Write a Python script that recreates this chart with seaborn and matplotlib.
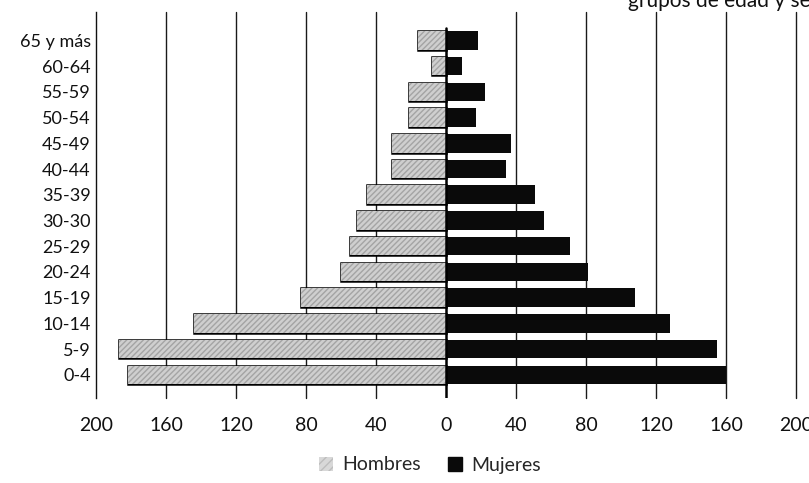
import matplotlib
matplotlib.use("Agg")
import matplotlib.pyplot as plt
import matplotlib.patheffects as pe
from matplotlib.patches import Patch
from matplotlib.ticker import FuncFormatter
import pandas as pd
import seaborn as sns

# Grupos de edad (de mayor a menor) y población por sexo
edades = ["65 y más", "60-64", "55-59", "50-54", "45-49", "40-44", "35-39",
          "30-30", "25-29", "20-24", "15-19", "10-14", "5-9", "0-4"]
hombres = [16, 8, 21, 21, 31, 31, 45, 51, 55, 60, 83, 144, 187, 182]
mujeres = [18, 9, 22, 17, 37, 34, 51, 56, 71, 81, 108, 128, 155, 160]
ticks_x = [-200, -160, -120, -80, -40, 0, 40, 80, 120, 160, 200]

df = pd.DataFrame({
    "edad": edades * 2,
    "valor": [-v for v in hombres] + mujeres,
    "sexo": ["Hombres"] * len(edades) + ["Mujeres"] * len(edades),
})

sns.set_theme(style="white")
plt.rcParams["font.family"] = ["Lato", "DejaVu Sans"]

fig = plt.figure(figsize=(8.09, 4.83), dpi=100)
ax = fig.add_axes([0.119, 0.176, 0.865, 0.799])

gris = "#cfcfcf"
sns.barplot(data=df, x="valor", y="edad", hue="sexo", order=edades,
            hue_order=["Hombres", "Mujeres"], palette={"Hombres": gris, "Mujeres": "#0a0a0a"},
            dodge=False, orient="h", width=0.72, legend=False, ax=ax, zorder=3,
            linewidth=0)

# textura punteada y contorno negro para las barras de hombres
for p in ax.patches:
    if p.get_width() < 0:
        p.set_hatch("//////")
        p.set_edgecolor("#a4a4a4")
        p.set_linewidth(0)
        p.set_path_effects([pe.Stroke(linewidth=1.8, foreground="black"), pe.Normal()])

ax.set_xlim(-200, 200)
ax.set_ylim(13.9, -1.1)
ax.set_xticks(ticks_x)
ax.xaxis.set_major_formatter(FuncFormatter(lambda v, _: f"{abs(int(v))}"))
ax.tick_params(axis="x", length=0, pad=14, labelsize=14, colors="#111111")
ax.tick_params(axis="y", length=0, pad=4, labelsize=13, colors="#111111")
ax.set_xlabel("")
ax.set_ylabel("")

# rejilla vertical detrás de las barras
for t in ticks_x:
    if t not in (0, -200):
        ax.axvline(t, color="#1a1a1a", linewidth=1.0, zorder=1, clip_on=False)
ax.axvline(0, ymin=0.0, ymax=0.96, color="black", linewidth=1.8, zorder=4)

for side in ("top", "right", "bottom"):
    ax.spines[side].set_visible(False)
ax.spines["left"].set_color("#111111")
ax.spines["left"].set_linewidth(1.0)

handles = [
    Patch(facecolor="#d8d8d8", hatch="////", edgecolor="#bdbdbd", linewidth=0, label="Hombres"),
    Patch(facecolor="#0a0a0a", edgecolor="#0a0a0a", label="Mujeres"),
]
fig.legend(handles=handles, loc="center", bbox_to_anchor=(430 / 809, 1 - 465 / 483),
           ncol=2, frameon=False, fontsize=14, handlelength=0.7, handleheight=0.7,
           handletextpad=0.5, columnspacing=1.4)

fig.text(628 / 809, 1 - 7 / 483, "grupos de edad y sexo", ha="left", va="baseline",
         fontsize=15, color="#111111")

fig.savefig("out.png", dpi=100)
